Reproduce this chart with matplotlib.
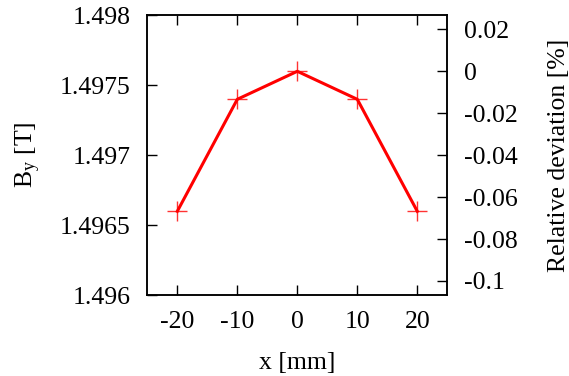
import matplotlib
matplotlib.use("Agg")
import matplotlib.pyplot as plt

x_mm = [-20, -10, 0, 10, 20]
by_tesla = [1.4966, 1.4974, 1.4976, 1.4974, 1.4966]
x_ticks = [-20, -10, 0, 10, 20]
y_ticks = [1.496, 1.4965, 1.497, 1.4975, 1.498]
y_tick_labels = ["1.496", "1.4965", "1.497", "1.4975", "1.498"]
y2_ticks = [0.02, 0, -0.02, -0.04, -0.06, -0.08, -0.1]
y2_tick_labels = ["0.02", "0", "-0.02", "-0.04", "-0.06", "-0.08", "-0.1"]
b_ref = 1.4976

plt.rcParams['font.family'] = ['Liberation Serif', 'DejaVu Serif']
plt.rcParams['mathtext.fontset'] = 'custom'
plt.rcParams['mathtext.rm'] = 'Liberation Serif'
plt.rcParams['mathtext.it'] = 'Liberation Serif'
fs = 18.5

fig = plt.figure(figsize=(5.69, 3.76), dpi=100)
ax = fig.add_axes([147.3/569, 1-295.3/376, 300/569, 280/376])
ax.plot(x_mm, by_tesla, ls='none', marker='+', ms=15, mew=1.0,
        color='#ff3333', mec='#ff3333', zorder=3)
ax.plot(x_mm, by_tesla, color='red', lw=2.2, zorder=4)
ax.set_xlim(-25, 25)
ax.set_ylim(1.496, 1.498)
ax.set_xticks(x_ticks)
ax.set_xticklabels([str(v) for v in x_ticks], fontsize=fs)
ax.set_yticks(y_ticks)
ax.set_yticklabels(y_tick_labels, fontsize=fs)
ax.tick_params(axis='x', direction='in', length=7, width=1.0, top=True, pad=11)
ax.tick_params(axis='y', direction='in', length=7, width=1.0, right=False, pad=12)
for s in ax.spines.values():
    s.set_linewidth(1.1)
ax.set_xlabel('x [mm]', fontsize=fs, labelpad=14)
ax.set_ylabel(r'B$_{\mathrm{y}}$ [T]', fontsize=fs, labelpad=12)

ax2 = ax.twinx()
lo = (1.496 - b_ref) / b_ref * 100
hi = (1.498 - b_ref) / b_ref * 100
ax2.set_ylim(lo, hi)
ax2.set_yticks(y2_ticks)
ax2.set_yticklabels(y2_tick_labels, fontsize=fs)
ax2.tick_params(axis='y', direction='in', length=7, width=1.0, pad=12)
for s in ax2.spines.values():
    s.set_linewidth(1.1)
ax2.set_ylabel('Relative deviation [%]', fontsize=fs, labelpad=22)

fig.savefig('out.png', dpi=100)
